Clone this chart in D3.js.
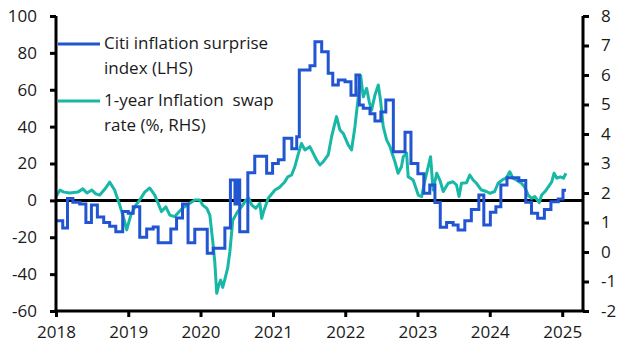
<!DOCTYPE html>
<html><head><meta charset="utf-8">
<script src="https://cdn.jsdelivr.net/npm/d3@7"></script>
<style>
html,body{margin:0;padding:0;background:#fff;}
svg text{font-family:"Open Sans",sans-serif;fill:#1a1a1a;}
</style></head>
<body><svg id="c" width="628" height="355"></svg>
<script>
// Citi inflation surprise index (LHS), step series: [date, value]
const citiDates = ["2018-01-01","2018-02-04","2018-02-28","2018-03-27","2018-05-01","2018-06-01","2018-06-29","2018-07-29","2018-08-30","2018-09-29","2018-10-30","2018-12-04","2019-01-01","2019-01-26","2019-02-28","2019-04-04","2019-05-07","2019-06-01","2019-08-04","2019-09-02","2019-10-02","2019-10-30","2019-12-03","2020-02-04","2020-03-05","2020-05-03","2020-05-31","2020-06-23","2020-07-02","2020-07-17","2020-08-27","2020-10-01","2020-11-30","2020-12-30","2021-01-28","2021-02-26","2021-04-06","2021-05-01","2021-05-14","2021-07-07","2021-08-01","2021-09-04","2021-10-07","2021-10-30","2021-11-27","2021-12-31","2022-01-30","2022-02-24","2022-03-13","2022-04-02","2022-05-06","2022-05-31","2022-06-30","2022-07-25","2022-09-01","2022-10-30","2022-11-29","2023-01-03","2023-02-02","2023-03-04","2023-03-30","2023-04-26","2023-05-28","2023-06-30","2023-07-25","2023-08-28","2023-09-30","2023-11-07","2023-12-02","2024-01-04","2024-02-01","2024-02-26","2024-03-28","2024-05-27","2024-07-01","2024-07-30","2024-08-30","2024-10-03","2024-11-05","2024-12-12","2025-01-05","2025-01-20"];
const citiValues = [-11,-15,1,-1,-2,-12,-2.5,-9,-12,-14,-17,-6,-7,-3.4,-20,-15.5,-14.5,-23,-15.5,-9.5,-2,-23,-15.7,-28.7,-26,-15,11,-2,11,-17,15,24,14.7,20,22,33.7,28,34.5,70.7,73,86,80.6,69,62.6,65.3,64.4,57,68,51.7,50,47,43,48,54.4,26.4,37,20,14.5,3.8,8.3,-1.2,-14.6,-12,-13.3,-16,-11,-5,2.9,-13.3,-6.5,-3.5,8.3,12.3,10.8,-1,-7,-9.7,-5,-0.7,0.8,5.5,5.5];

// 1-year inflation swap rate (%, RHS)
const swapDates = ["2018-01-01","2018-01-21","2018-02-10","2018-03-12","2018-04-21","2018-05-17","2018-06-06","2018-07-01","2018-07-21","2018-08-10","2018-09-09","2018-09-29","2018-10-24","2018-11-19","2018-12-09","2018-12-24","2019-01-14","2019-02-08","2019-02-28","2019-03-25","2019-04-19","2019-05-15","2019-06-18","2019-07-10","2019-07-30","2019-08-24","2019-09-18","2019-10-03","2019-11-08","2019-12-03","2019-12-28","2020-01-12","2020-02-02","2020-02-17","2020-03-03","2020-03-13","2020-03-23","2020-04-02","2020-04-12","2020-04-22","2020-05-02","2020-05-17","2020-05-28","2020-06-12","2020-07-07","2020-08-01","2020-08-17","2020-09-01","2020-09-16","2020-10-06","2020-10-27","2020-11-05","2020-11-16","2020-12-08","2021-01-11","2021-02-05","2021-03-02","2021-03-17","2021-04-05","2021-04-22","2021-05-08","2021-05-25","2021-06-11","2021-07-06","2021-07-23","2021-08-09","2021-08-26","2021-09-12","2021-10-07","2021-10-24","2021-11-18","2021-12-05","2021-12-22","2022-01-16","2022-02-02","2022-02-19","2022-03-08","2022-03-20","2022-04-02","2022-04-19","2022-05-02","2022-05-14","2022-05-31","2022-06-17","2022-06-29","2022-07-12","2022-07-29","2022-08-15","2022-09-09","2022-09-25","2022-10-12","2022-10-21","2022-11-07","2022-11-15","2022-12-10","2023-01-05","2023-01-22","2023-02-08","2023-02-24","2023-03-08","2023-03-21","2023-04-08","2023-04-24","2023-05-11","2023-06-05","2023-06-30","2023-07-17","2023-07-30","2023-08-11","2023-09-06","2023-09-22","2023-10-09","2023-10-26","2023-11-20","2023-12-15","2024-01-01","2024-01-26","2024-02-12","2024-03-08","2024-03-25","2024-04-11","2024-04-27","2024-05-14","2024-06-09","2024-06-26","2024-07-13","2024-07-30","2024-08-16","2024-09-07","2024-09-19","2024-10-06","2024-10-23","2024-11-09","2024-11-21","2024-12-05","2024-12-22","2025-01-07","2025-01-20"];
const swapValues = [1.88,2.10,2.03,2.00,2.03,2.14,2.00,2.10,1.97,1.93,2.17,2.37,2.10,1.59,1.15,0.75,1.25,1.59,1.76,2.03,2.17,1.93,1.37,1.53,1.25,1.20,1.39,1.49,1.65,1.76,1.76,1.59,1.48,1.25,0.35,-0.33,-1.40,-1.12,-0.95,-1.20,-0.95,-0.55,0.00,1.08,1.37,1.59,1.76,1.82,1.59,1.48,1.65,1.14,1.40,1.82,2.10,2.20,2.38,2.55,2.61,2.90,3.30,3.68,3.46,3.57,3.35,3.12,2.95,3.06,3.29,3.91,4.59,4.14,4.02,3.63,3.46,4.25,5.26,5.98,5.26,5.55,5.10,4.81,5.32,5.66,5.10,4.25,3.80,3.57,3.06,2.67,2.89,3.23,3.35,2.55,2.44,1.93,1.88,2.44,2.89,3.23,2.10,2.67,2.44,2.05,2.33,2.38,2.27,1.88,2.33,2.35,2.61,2.44,2.33,2.10,2.05,1.99,2.05,2.33,2.46,2.50,2.72,2.50,2.44,2.33,2.20,1.93,1.82,1.88,1.67,1.93,2.05,2.21,2.38,2.67,2.50,2.55,2.50,2.67];

const leftTicks = [100,80,60,40,20,0,-20,-40,-60];
const rightTicks = [8,7,6,5,4,3,2,1,0,-1,-2];
const yearTicks = [2018,2019,2020,2021,2022,2023,2024,2025];
const legendLabels = [["Citi inflation surprise","index (LHS)"],["1-year Inflation  swap","rate (%, RHS)"]];

const BLUE = "#2155d2", TEAL = "#17b8a6";
const parse = d3.timeParse("%Y-%m-%d");
const citi = citiDates.map((d,i)=>({date:parse(d), v:citiValues[i]}));
const swap = swapDates.map((d,i)=>({date:parse(d), v:swapValues[i]}));

const L = 56, R = 583, T = 16, B = 311;
const svg = d3.select("#c");
const x = d3.scaleTime().domain([new Date(2018,0,1), new Date(2025,3,16)]).range([L,R]);
const yL = d3.scaleLinear().domain([-60,100]).range([B,T]);
const yR = d3.scaleLinear().domain([-2,8]).range([B,T]);

// zero line
svg.append("line").attr("x1",L).attr("x2",R).attr("y1",yL(0)).attr("y2",yL(0))
  .attr("stroke","#000").attr("stroke-width",3);

svg.append("path").datum(swap)
  .attr("d", d3.line().x(d=>x(d.date)).y(d=>yR(d.v)).curve(d3.curveLinear))
  .attr("fill","none").attr("stroke",TEAL).attr("stroke-width",3).attr("stroke-linejoin","round");

svg.append("path").datum(citi)
  .attr("d", d3.line().x(d=>x(d.date)).y(d=>yL(d.v)).curve(d3.curveStepAfter))
  .attr("fill","none").attr("stroke",BLUE).attr("stroke-width",3);

// axes
const fs = "17px";
const gL = svg.append("g").attr("transform",`translate(${L},0)`)
  .call(d3.axisLeft(yL).tickValues(leftTicks).tickSize(6).tickPadding(13).tickFormat(d=>d3.format("d")(d).replace("−","-")));
const gR = svg.append("g").attr("transform",`translate(${R},0)`)
  .call(d3.axisRight(yR).tickValues(rightTicks).tickSize(6).tickPadding(12).tickFormat(d=>d3.format("d")(d).replace("−","-")));
const gX = svg.append("g").attr("transform",`translate(0,${B})`)
  .call(d3.axisBottom(x).tickValues(yearTicks.map(yv=>new Date(yv,0,1))).tickSize(6).tickPadding(9).tickFormat(d3.timeFormat("%Y")));
[gL,gR,gX].forEach(g=>{
  g.select(".domain").attr("stroke","#000").attr("stroke-width",3);
  g.selectAll(".tick line").attr("stroke","#000").attr("stroke-width",3);
  g.selectAll(".tick text").attr("font-size",fs).attr("font-family","Open Sans").attr("fill","#1a1a1a");
});
gL.select(".domain").attr("d",`M0,${T}V${B}`);
gR.select(".domain").attr("d",`M0,${T}V${B}`);
gX.select(".domain").attr("d",`M${L-1.5},0H${R+1.5}`);

// legend
const leg = svg.append("g");
const legY = [44, 101];
const legColors = [BLUE, TEAL];
legendLabels.forEach((lines,i)=>{
  leg.append("line").attr("x1",58).attr("x2",100).attr("y1",legY[i]).attr("y2",legY[i])
    .attr("stroke",legColors[i]).attr("stroke-width",3);
  lines.forEach((t,j)=>{
    leg.append("text").attr("x",104).attr("y",legY[i]+5+j*25).attr("font-size",fs)
      .attr("xml:space","preserve").style("white-space","pre").text(t);
  });
});
</script></body></html>
